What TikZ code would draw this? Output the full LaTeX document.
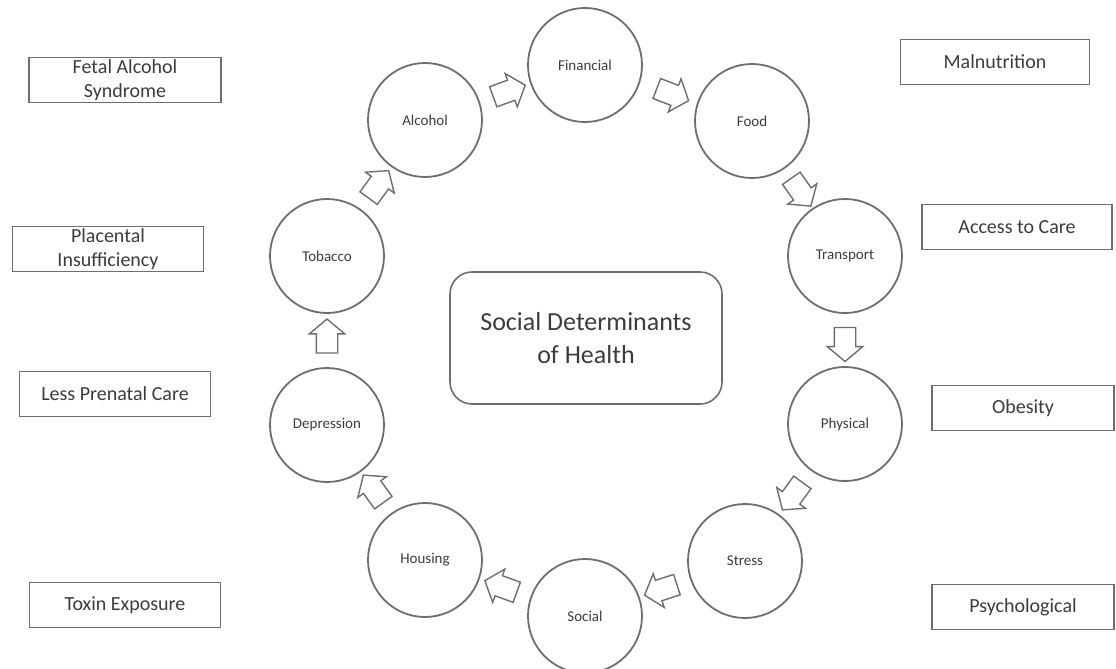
\documentclass[tikz,border=0pt]{standalone}
\usepackage{fontspec}
\setmainfont{Carlito}
\usetikzlibrary{shapes.arrows,calc}
\definecolor{linegray}{HTML}{6E6E6E}
\definecolor{inkgray}{HTML}{3C3C3C}
\tikzset{
  factor/.style  = {shape=circle, draw=linegray, line width=1.8pt,
                    minimum size=114pt, inner sep=0pt, text=inkgray,
                    font=\fontsize{15}{18}\selectfont},
  outcome/.style = {shape=rectangle, draw=linegray, line width=1.6pt,
                    align=center, inner sep=0pt, text=inkgray,
                    minimum width=190pt, minimum height=45pt,
                    font=\fontsize{20}{24}\selectfont},
  hub/.style     = {shape=rectangle, rounded corners=22pt, draw=linegray,
                    line width=1.6pt, align=center, text=inkgray,
                    minimum width=272pt, minimum height=132pt,
                    font=\fontsize{26}{33}\selectfont},
  flow/.style    = {single arrow, draw=linegray, line width=1.4pt,
                    inner xsep=0pt, inner ysep=10pt, minimum height=34pt,
                    single arrow head extend=7pt, single arrow tip angle=100}
}

\begin{document}
\begin{tikzpicture}[x=1pt, y=-1pt]
  \useasboundingbox (0,0) rectangle (1116,669);

  % ring of determinants
  \node [factor] (fin)        at (585,65)  {Financial};
  \node [factor] (food)       at (752,121) {Food};
  \node [factor] (transport)  at (845,256) {Transport};
  \node [factor] (physical)   at (845,424) {Physical};
  \node [factor] (stress)     at (745,561) {Stress};
  \node [factor] (social)     at (585,616) {Social};
  \node [factor] (housing)    at (425,560) {Housing};
  \node [factor] (depression) at (327,425) {Depression};
  \node [factor] (tobacco)    at (327,256) {Tobacco};
  \node [factor] (alcohol)    at (425,120) {Alcohol};

  \node [hub] (sdoh) at (586,338) {Social Determinants\\of Health};

  % block arrows round the ring
  \node [flow, rotate=20]   (alc-fin)   at ($(alcohol)!0.5!(fin)$)        {};
  \node [flow, rotate=-21]  (fin-food)  at ($(fin)!0.5!(food)$)           {};
  \node [flow, rotate=-55]  (food-tr)   at ($(food)!0.5!(transport)$)     {};
  \node [flow, rotate=-90]  (tr-phys)   at ($(transport)!0.5!(physical)$) {};
  \node [flow, rotate=-126] (phys-str)  at ($(physical)!0.5!(stress)$)    {};
  \node [flow, rotate=198]  (str-soc)   at ($(stress)!0.5!(social)$)      {};
  \node [flow, rotate=160]  (soc-hous)  at ($(social)!0.5!(housing)$)     {};
  \node [flow, rotate=126]  (hous-dep)  at ($(housing)!0.5!(depression)$) {};
  \node [flow, rotate=90]   (dep-tob)   at ($(depression)!0.5!(tobacco)$) {};
  \node [flow, rotate=54]   (tob-alc)   at ($(tobacco)!0.5!(alcohol)$)    {};

  % outcomes, left
  \node [outcome, minimum width=192pt] (fas)      at (125,80)  {Fetal Alcohol\\Syndrome};
  \node [outcome, minimum width=191pt] (placenta) at (108,249) {Placental\\Insufficiency};
  \node [outcome, minimum width=191pt] (prenatal) at (115,394) {Less Prenatal Care};
  \node [outcome, minimum width=191pt] (toxin)    at (125,605) {Toxin Exposure};

  % outcomes, right
  \node [outcome, minimum width=189pt] (malnut)   at (995,62)   {Malnutrition};
  \node [outcome, minimum width=190pt] (access)   at (1017,227) {Access to Care};
  \node [outcome, minimum width=182pt] (obesity)  at (1023,408) {Obesity};
  \node [outcome, minimum width=182pt] (psych)    at (1023,607) {Psychological};
\end{tikzpicture}
\end{document}
